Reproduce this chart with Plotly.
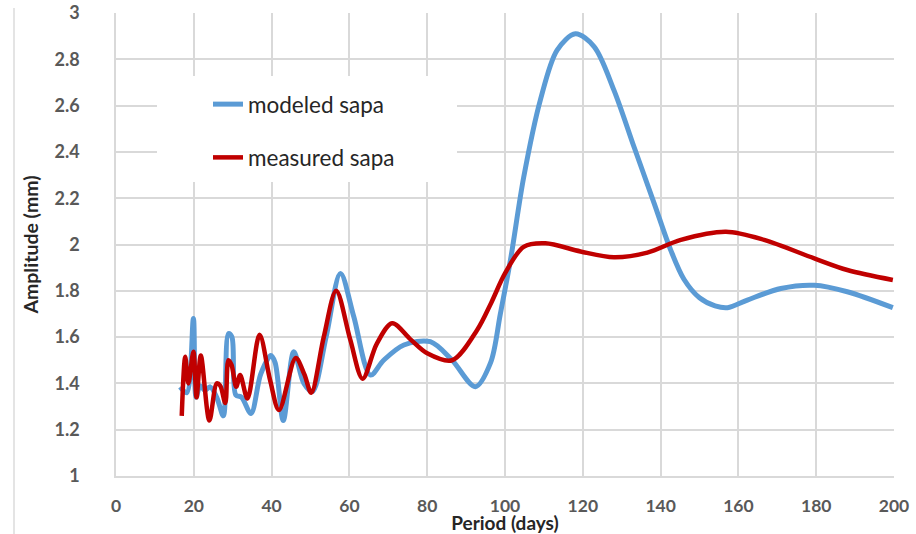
import plotly.graph_objects as go

# Period (days) and amplitude (mm)
modeled_x = [16.5, 18.2, 19.9, 20.6, 21.6, 22.9, 24.2, 25.9, 27.6, 28.9,
             29.8, 30.8, 32.3, 34.7, 37.2, 39.8, 40.9, 43.0, 45.7, 48.3,
             50.5, 54.0, 57.7, 61.1, 65.4, 68.8, 74.0, 80.8, 86.4, 92.4,
             96.3, 98.8, 101.4, 104.8, 109.1, 113.4, 118.1, 122.9, 128.0, 133.2,
             138.3, 142.6, 146.0, 150.0, 154.0, 157.2, 162.3, 170.9, 179.5, 188.0, 199.7]
modeled_y = [1.385, 1.36, 1.68, 1.34, 1.39, 1.37, 1.385, 1.34, 1.26, 1.615,
             1.60, 1.35, 1.34, 1.27, 1.44, 1.52, 1.49, 1.24, 1.537, 1.40,
             1.365, 1.60, 1.875, 1.69, 1.436, 1.50, 1.566, 1.58, 1.50, 1.386,
             1.49, 1.70, 1.933, 2.29, 2.625, 2.84, 2.91, 2.855, 2.667, 2.42,
             2.18, 1.976, 1.85, 1.77, 1.735, 1.727, 1.76, 1.81, 1.824, 1.796, 1.727]

measured_x = [16.9, 17.8, 18.6, 19.9, 20.7, 21.8, 24.0, 25.9, 26.8, 28.1,
              28.9, 29.7, 30.9, 31.9, 33.8, 36.9, 39.6, 41.9, 46.2, 48.4,
              50.2, 53.4, 56.6, 60.2, 63.4, 67.0, 71.0, 75.7, 80.0, 86.4,
              92.8, 96.5, 100.0, 104.8, 110.4, 119.4, 128.0, 136.6, 145.2, 156.8,
              166.6, 179.5, 188.0, 199.7]
measured_y = [1.26, 1.515, 1.40, 1.537, 1.34, 1.52, 1.24, 1.40, 1.39, 1.315,
              1.50, 1.48, 1.385, 1.436, 1.335, 1.61, 1.415, 1.285, 1.51, 1.44,
              1.36, 1.60, 1.80, 1.59, 1.42, 1.57, 1.66, 1.59, 1.53, 1.50,
              1.63, 1.75, 1.875, 1.99, 2.005, 1.97, 1.945, 1.965, 2.02, 2.055,
              2.02, 1.94, 1.89, 1.847]

x_ticks = [0, 20, 40, 60, 80, 100, 120, 140, 160, 180, 200]
y_ticks = [1, 1.2, 1.4, 1.6, 1.8, 2, 2.2, 2.4, 2.6, 2.8, 3]
series_names = ["modeled sapa", "measured sapa"]

FONT = "Lato"
fig = go.Figure()
fig.add_trace(go.Scatter(x=modeled_x, y=modeled_y, mode="lines", name=series_names[0],
                         legendgroup="a",
                         line=dict(color="#5B9BD5", width=5, shape="spline", smoothing=0.9)))
fig.add_trace(go.Scatter(x=measured_x, y=measured_y, mode="lines", name=series_names[1],
                         legendgroup="b",
                         line=dict(color="#C00000", width=4.5, shape="spline", smoothing=0.9)))

W, H = 916, 534
L, R, T, B = 116, 22, 13, 58
pw, ph = W - L - R, H - T - B


def px2paper_x(px):
    return (px - L) / pw


def px2paper_y(py):
    return (H - B - py) / ph


fig.update_layout(
    width=W, height=H,
    margin=dict(l=L, r=R, t=T, b=B, pad=0),
    paper_bgcolor="white", plot_bgcolor="white",
    font=dict(family=FONT, color="#404040"),
    showlegend=True,
    legend=dict(
        x=px2paper_x(208), y=px2paper_y(83), xanchor="left", yanchor="top",
        bgcolor="rgba(0,0,0,0)", font=dict(family=FONT, size=22.5, color="#262626"),
        tracegroupgap=21, itemwidth=30,
    ),
    shapes=[
        dict(type="rect", xref="paper", yref="paper",
             x0=px2paper_x(157), x1=px2paper_x(457), y0=px2paper_y(182), y1=px2paper_y(76),
             fillcolor="white", line=dict(width=0), layer="above"),
        dict(type="line", xref="paper", yref="paper",
             x0=px2paper_x(14), x1=px2paper_x(14), y0=px2paper_y(534), y1=px2paper_y(8),
             line=dict(color="#e4e4e4", width=2)),
    ],
)

fig.update_xaxes(
    range=[0, 200], tickvals=x_ticks, ticktext=[str(v) for v in x_ticks],
    automargin=False, ticklabeloverflow="allow",
    showgrid=True, gridcolor="#d9d9d9", gridwidth=1.5,
    showline=True, linecolor="#d9d9d9", linewidth=1.5, mirror=False,
    zeroline=False, ticks="", ticklabelstandoff=13,
    tickfont=dict(family=FONT, size=17.5, color="#595959", weight="bold"),
    title=dict(text="Period (days)", standoff=6,
               font=dict(family=FONT, size=19, color="#262626", weight="bold")),
)
fig.update_yaxes(
    range=[1, 3], tickvals=y_ticks, ticktext=[f"{v:g}" for v in y_ticks],
    automargin=False, ticklabeloverflow="allow",
    showgrid=True, gridcolor="#d9d9d9", gridwidth=1.5,
    showline=True, linecolor="#d9d9d9", linewidth=1.5,
    zeroline=False, ticks="", ticklabelstandoff=31,
    tickfont=dict(family=FONT, size=18, color="#595959", weight="bold"),
    title=dict(text="Amplitude (mm)", standoff=11,
               font=dict(family=FONT, size=19.5, color="#262626", weight="bold")),
)

fig.write_html("out.html", config={"displayModeBar": False},
               post_script="document.body.style.margin='0';")
